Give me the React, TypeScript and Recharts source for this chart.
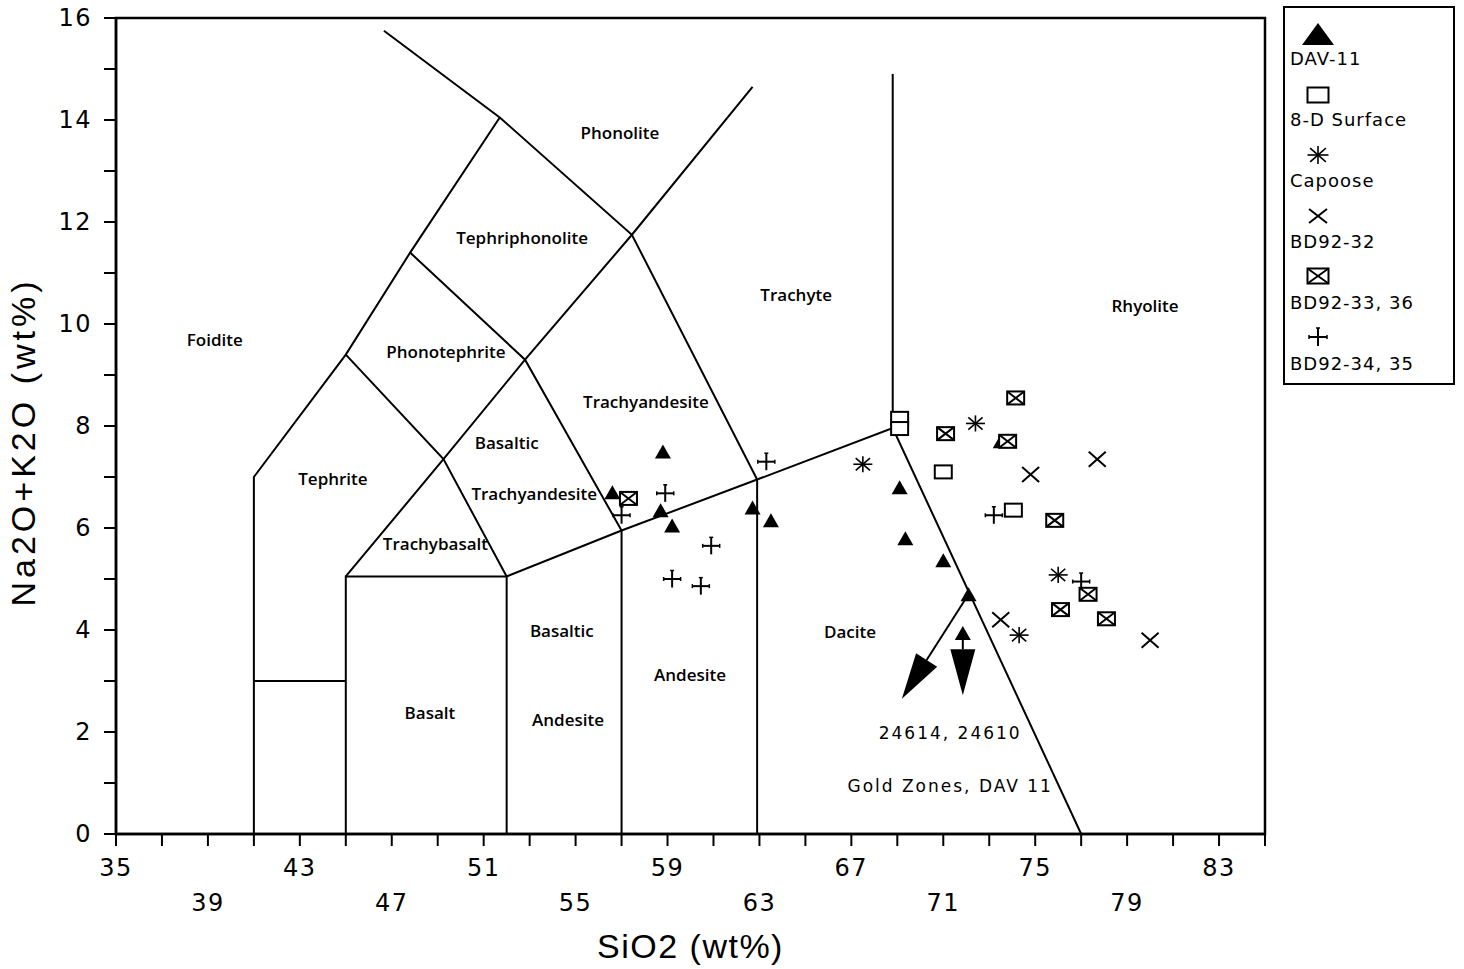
import React from "react"
import {
  ScatterChart,
  Scatter,
  XAxis,
  YAxis,
  ReferenceArea,
  ReferenceLine,
  Legend,
  Label,
} from "recharts"

// axis ticks
const xTicks = [35, 37, 39, 41, 43, 45, 47, 49, 51, 53, 55, 57, 59, 61, 63, 65, 67, 69, 71, 73, 75, 77, 79, 81, 83, 85]
const xTopRow = [35, 43, 51, 59, 67, 75, 83]
const xBottomRow = [39, 47, 55, 63, 71, 79]
const yTicks = [0, 1, 2, 3, 4, 5, 6, 7, 8, 9, 10, 11, 12, 13, 14, 15, 16]
const yLabelled = [0, 2, 4, 6, 8, 10, 12, 14, 16]

// samples (SiO2, Na2O+K2O)
const dav11 = [
  { x: 58.8, y: 7.5 }, { x: 56.6, y: 6.7 }, { x: 58.7, y: 6.35 }, { x: 59.2, y: 6.05 },
  { x: 62.7, y: 6.4 }, { x: 63.5, y: 6.15 }, { x: 69.1, y: 6.8 }, { x: 69.35, y: 5.8 },
  { x: 71.0, y: 5.37 }, { x: 72.1, y: 4.7 }, { x: 71.85, y: 3.94 }, { x: 73.5, y: 7.7 },
]
const bdSurface = [{ x: 69.1, y: 8.15 }, { x: 69.1, y: 7.95 }, { x: 71.0, y: 7.1 }, { x: 74.05, y: 6.35 }]
const capoose = [{ x: 67.5, y: 7.25 }, { x: 72.4, y: 8.05 }, { x: 76.0, y: 5.08 }, { x: 74.3, y: 3.9 }]
const bd9232 = [{ x: 74.8, y: 7.05 }, { x: 77.7, y: 7.35 }, { x: 73.5, y: 4.2 }, { x: 80.0, y: 3.8 }]
const bd923336 = [
  { x: 57.3, y: 6.58 }, { x: 74.15, y: 8.55 }, { x: 71.1, y: 7.85 }, { x: 73.8, y: 7.7 },
  { x: 75.85, y: 6.15 }, { x: 77.3, y: 4.7 }, { x: 76.1, y: 4.4 }, { x: 78.1, y: 4.22 },
]
const bd923435 = [
  { x: 63.3, y: 7.3 }, { x: 58.9, y: 6.68 }, { x: 57.0, y: 6.25 }, { x: 60.9, y: 5.65 },
  { x: 59.2, y: 5.0 }, { x: 60.45, y: 4.86 }, { x: 73.2, y: 6.25 }, { x: 77.0, y: 4.95 },
]

// TAS field boundaries
const foiditeEdge = [{ x: 41, y: 0 }, { x: 41, y: 7 }, { x: 45, y: 9.4 }, { x: 47.8, y: 11.4 }, { x: 51.7, y: 14.05 }]
const picrobasaltTop = [{ x: 41, y: 3 }, { x: 45, y: 3 }]
const basaltBox = [{ x: 45, y: 0 }, { x: 45, y: 5.05 }, { x: 52, y: 5.05 }, { x: 52, y: 0 }]
const trachybasaltEdge = [{ x: 45, y: 5.05 }, { x: 49.25, y: 7.35 }, { x: 52.8, y: 9.3 }, { x: 57.45, y: 11.75 }, { x: 62.7, y: 14.65 }]
const tephriteEdge = [{ x: 45, y: 9.4 }, { x: 49.25, y: 7.35 }, { x: 52, y: 5.05 }]
const tephriphonoliteEdge = [{ x: 47.8, y: 11.4 }, { x: 52.8, y: 9.3 }, { x: 57, y: 5.95 }, { x: 57, y: 0 }]
const alkalineDivide = [{ x: 52, y: 5.05 }, { x: 57, y: 5.95 }, { x: 62.9, y: 6.95 }, { x: 68.8, y: 7.96 }, { x: 77, y: 0 }]
const phonoliteEdge = [{ x: 62.9, y: 0 }, { x: 62.9, y: 6.95 }, { x: 57.45, y: 11.75 }, { x: 51.7, y: 14.05 }, { x: 46.66, y: 15.75 }]
const rhyoliteEdge = [{ x: 68.8, y: 7.96 }, { x: 68.8, y: 14.9 }]
const boundaries = [
  foiditeEdge, picrobasaltTop, basaltBox, trachybasaltEdge, tephriteEdge,
  tephriphonoliteEdge, alkalineDivide, phonoliteEdge, rhyoliteEdge,
]

const fieldLabels = [
  { x: 39.3, y: 9.69, text: "Foidite" },
  { x: 56.93, y: 13.75, text: "Phonolite" },
  { x: 52.67, y: 11.7, text: "Tephriphonolite" },
  { x: 64.6, y: 10.57, text: "Trachyte" },
  { x: 79.78, y: 10.37, text: "Rhyolite" },
  { x: 49.36, y: 9.47, text: "Phonotephrite" },
  { x: 58.06, y: 8.49, text: "Trachyandesite" },
  { x: 52.0, y: 7.67, text: "Basaltic" },
  { x: 53.2, y: 6.67, text: "Trachyandesite" },
  { x: 44.44, y: 6.98, text: "Tephrite" },
  { x: 48.9, y: 5.7, text: "Trachybasalt" },
  { x: 54.4, y: 4.0, text: "Basaltic" },
  { x: 54.67, y: 2.24, text: "Andesite" },
  { x: 59.98, y: 3.12, text: "Andesite" },
  { x: 48.66, y: 2.39, text: "Basalt" },
  { x: 66.94, y: 3.98, text: "Dacite" },
]
const goldNotes = [
  { x: 71.3, y: 1.98, text: "24614, 24610" },
  { x: 71.3, y: 0.94, text: "Gold Zones, DAV 11" },
]
const goldArrows = [
  { from: { x: 72.1, y: 4.7 }, to: { x: 69.2, y: 2.65 } },
  { from: { x: 71.85, y: 3.94 }, to: { x: 71.85, y: 2.72 } },
]

const legendItems = [
  { kind: "triangle", name: "DAV-11" },
  { kind: "square", name: "8-D Surface" },
  { kind: "asterisk", name: "Capoose" },
  { kind: "cross", name: "BD92-32" },
  { kind: "boxcross", name: "BD92-33, 36" },
  { kind: "plus", name: "BD92-34, 35" },
]

const INK = "#000"
const tickFont = "'DejaVu Sans', sans-serif"
const labelFont = "'Open Sans', sans-serif"

function Marker({ kind, cx, cy, big = false }: { kind: string; cx: number; cy: number; big?: boolean }) {
  const w = big ? 10.5 : 8.5
  const h = big ? 7.5 : 6.5
  switch (kind) {
    case "triangle": {
      const tw = big ? 16 : 8
      const th = big ? 11 : 7
      return <polygon points={`${cx},${cy - th} ${cx + tw},${cy + th} ${cx - tw},${cy + th}`} fill={INK} />
    }
    case "square":
      return <rect x={cx - w} y={cy - h} width={w * 2} height={h * 2} fill="#fff" stroke={INK} strokeWidth={2} />
    case "asterisk": {
      const r = big ? 10.5 : 9.5
      return (
        <g stroke={INK} strokeWidth={1.6}>
          <line x1={cx - r} y1={cy} x2={cx + r} y2={cy} />
          <line x1={cx} y1={cy - r * 0.85} x2={cx} y2={cy + r * 0.85} />
          <line x1={cx - r * 0.75} y1={cy - r * 0.65} x2={cx + r * 0.75} y2={cy + r * 0.65} />
          <line x1={cx - r * 0.75} y1={cy + r * 0.65} x2={cx + r * 0.75} y2={cy - r * 0.65} />
        </g>
      )
    }
    case "cross": {
      const r = big ? 9 : 8.5
      const rv = big ? 7 : 7.5
      return (
        <g stroke={INK} strokeWidth={2}>
          <line x1={cx - r} y1={cy - rv} x2={cx + r} y2={cy + rv} />
          <line x1={cx - r} y1={cy + rv} x2={cx + r} y2={cy - rv} />
        </g>
      )
    }
    case "boxcross":
      return (
        <g stroke={INK} strokeWidth={2} fill="#fff">
          <rect x={cx - w} y={cy - h} width={w * 2} height={h * 2} />
          <line x1={cx - w} y1={cy - h} x2={cx + w} y2={cy + h} />
          <line x1={cx - w} y1={cy + h} x2={cx + w} y2={cy - h} />
        </g>
      )
    case "plus": {
      const r = big ? 9 : 8.5
      return (
        <g stroke={INK} strokeWidth={2}>
          <line x1={cx - r} y1={cy} x2={cx + r} y2={cy} />
          <line x1={cx} y1={cy - r} x2={cx} y2={cy + r} />
          <line x1={cx - r} y1={cy - 2} x2={cx - r} y2={cy + 2} strokeWidth={1.5} />
          <line x1={cx + r} y1={cy - 2} x2={cx + r} y2={cy + 2} strokeWidth={1.5} />
          <line x1={cx - 2} y1={cy - r} x2={cx + 2} y2={cy - r} strokeWidth={1.5} />
        </g>
      )
    }
    default:
      return <g />
  }
}

const markerShape = (kind: string) => (p: any) => <Marker kind={kind} cx={p.cx} cy={p.cy} />

function XTick({ x, y, payload }: any) {
  const v = payload.value
  let dy = 0
  if (xTopRow.includes(v)) dy = 20
  else if (xBottomRow.includes(v)) dy = 55
  else return <g />
  return (
    <text x={x} y={y + dy} textAnchor="middle" dominantBaseline="central" fontFamily={tickFont} fontSize={24} letterSpacing={1.5} fill={INK}>
      {v}
    </text>
  )
}

function YTick({ x, y, payload }: any) {
  const v = payload.value
  if (!yLabelled.includes(v)) return <g />
  return (
    <text x={x - 10} y={y} textAnchor="end" dominantBaseline="central" fontFamily={tickFont} fontSize={24} letterSpacing={1.5} fill={INK}>
      {v}
    </text>
  )
}

function ArrowShape(p: any) {
  const { x1, y1, x2, y2 } = p
  const dx = x2 - x1
  const dy = y2 - y1
  const len = Math.hypot(dx, dy) || 1
  const ux = dx / len
  const uy = dy / len
  const headLen = 46
  const headW = 25
  const bx = x2 - ux * headLen
  const by = y2 - uy * headLen
  const px = -uy * (headW / 2)
  const py = ux * (headW / 2)
  return (
    <g>
      <line x1={x1} y1={y1} x2={bx} y2={by} stroke={INK} strokeWidth={2} />
      <polygon points={`${x2},${y2} ${bx + px},${by + py} ${bx - px},${by - py}`} fill={INK} />
    </g>
  )
}

function LegendBox() {
  return (
    <div
      style={{
        position: "relative",
        width: 172,
        height: 379,
        border: "2px solid #000",
        boxSizing: "border-box",
        background: "#fff",
        fontFamily: tickFont,
        fontSize: 18,
        letterSpacing: 1,
        color: INK,
      }}
    >
      {legendItems.map((it, i) => (
        <React.Fragment key={it.name}>
          <svg style={{ position: "absolute", left: 0, top: 12 + i * 60.6 }} width={70} height={30}>
            <Marker kind={it.kind} cx={33} cy={14} big />
          </svg>
          <div style={{ position: "absolute", left: 5, top: 39 + i * 61, lineHeight: "24px", whiteSpace: "pre" }}>
            {it.name}
          </div>
        </React.Fragment>
      ))}
    </div>
  )
}

export default function App() {
  return (
    <div style={{ position: "fixed", left: 0, top: 0, background: "#fff" }}>
      <ScatterChart width={1464} height={969} margin={{ top: 18, right: 199, left: 16, bottom: 35 }}>
        <XAxis
          type="number"
          dataKey="x"
          domain={[35, 85]}
          ticks={xTicks}
          interval={0}
          allowDataOverflow
          height={100}
          tick={<XTick />}
          tickSize={12}
          axisLine={{ stroke: INK, strokeWidth: 2.5 }}
          tickLine={{ stroke: INK, strokeWidth: 2 }}
        >
          <Label
            content={(p: any) => {
              const vb = p.viewBox || { x: 116, y: 834, width: 1149 }
              return (
                <text x={vb.x + vb.width / 2} y={vb.y + 124} textAnchor="middle" fontFamily="'Liberation Sans', Arial, sans-serif" fontSize={34} letterSpacing={1.5} fill={INK}>
                  SiO2 (wt%)
                </text>
              )
            }}
          />
        </XAxis>
        <YAxis
          type="number"
          dataKey="y"
          domain={[0, 16]}
          ticks={yTicks}
          interval={0}
          allowDataOverflow
          width={100}
          tick={<YTick />}
          tickSize={12}
          axisLine={{ stroke: INK, strokeWidth: 2.5 }}
          tickLine={{ stroke: INK, strokeWidth: 2 }}
        >
          <Label
            content={(p: any) => {
              const vb = p.viewBox || { x: 16, y: 18, height: 816 }
              const cx = vb.x + 19
              const cy = vb.y + vb.height / 2 + 16
              return (
                <text x={cx} y={cy} transform={`rotate(-90 ${cx} ${cy})`} textAnchor="middle" fontFamily="'Liberation Sans', Arial, sans-serif" fontSize={34} letterSpacing={4} fill={INK}>
                  Na2O+K2O (wt%)
                </text>
              )
            }}
          />
        </YAxis>

        <ReferenceArea x1={35} x2={85} y1={0} y2={16} fill="none" stroke={INK} strokeWidth={2.5} />

        {boundaries.map((seg, i) => (
          <Scatter
            key={`b${i}`}
            data={seg}
            line={{ stroke: INK, strokeWidth: 2 }}
            lineType="joint"
            shape={() => <g />}
            legendType="none"
            isAnimationActive={false}
          />
        ))}

        {goldArrows.map((a, i) => (
          <ReferenceLine key={`a${i}`} segment={[a.from, a.to]} shape={ArrowShape} ifOverflow="visible" />
        ))}

        <Scatter
          data={fieldLabels}
          legendType="none"
          isAnimationActive={false}
          shape={(p: any) => (
            <text x={p.cx} y={p.cy} textAnchor="middle" dominantBaseline="central" fontFamily={labelFont} fontWeight={600} fontSize={17} fill={INK}>
              {p.payload.text}
            </text>
          )}
        />
        <Scatter
          data={goldNotes}
          legendType="none"
          isAnimationActive={false}
          shape={(p: any) => (
            <text x={p.cx} y={p.cy} textAnchor="middle" dominantBaseline="central" fontFamily={tickFont} fontSize={17} letterSpacing={2} fill={INK}>
              {p.payload.text}
            </text>
          )}
        />

        <Scatter name="DAV-11" data={dav11} shape={markerShape("triangle")} isAnimationActive={false} />
        <Scatter name="8-D Surface" data={bdSurface} shape={markerShape("square")} isAnimationActive={false} />
        <Scatter name="Capoose" data={capoose} shape={markerShape("asterisk")} isAnimationActive={false} />
        <Scatter name="BD92-32" data={bd9232} shape={markerShape("cross")} isAnimationActive={false} />
        <Scatter name="BD92-33, 36" data={bd923336} shape={markerShape("boxcross")} isAnimationActive={false} />
        <Scatter name="BD92-34, 35" data={bd923435} shape={markerShape("plus")} isAnimationActive={false} />

        <Legend
          layout="vertical"
          align="center"
          verticalAlign="middle"
          content={() => <LegendBox />}
          wrapperStyle={{ left: 1283, top: 6, width: 172, height: 379 }}
        />
      </ScatterChart>
    </div>
  )
}
